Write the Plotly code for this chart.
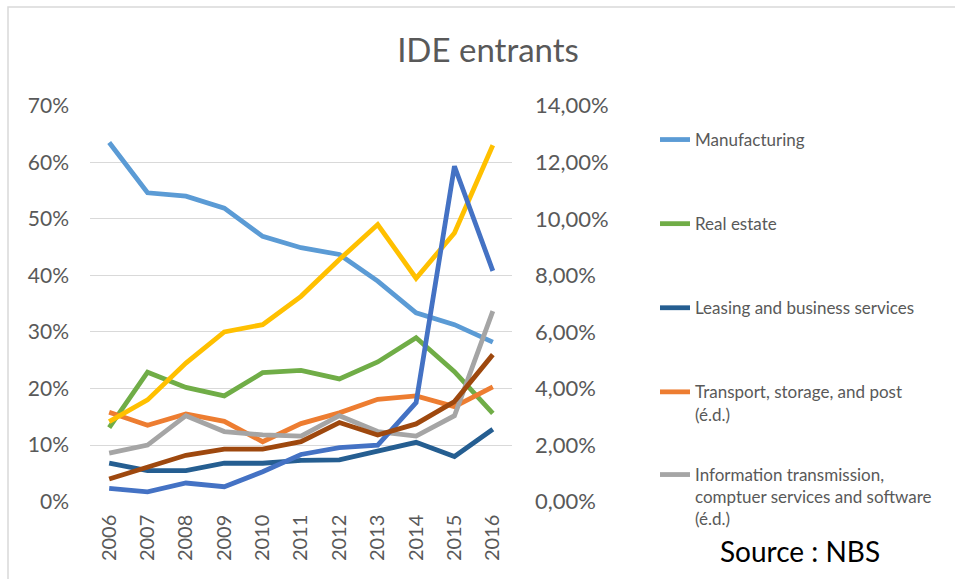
import plotly.graph_objects as go

years = ["2006", "2007", "2008", "2009", "2010", "2011", "2012", "2013", "2014", "2015", "2016"]

# Left axis series (percent)
manufacturing = [63.5, 54.6, 54.0, 51.9, 46.9, 44.9, 43.7, 39.0, 33.4, 31.3, 28.2]
real_estate = [13.1, 22.9, 20.2, 18.7, 22.8, 23.2, 21.7, 24.7, 29.0, 23.0, 15.6]
leasing = [6.8, 5.5, 5.5, 6.8, 6.8, 7.3, 7.4, 8.9, 10.5, 8.0, 12.8]

# Right axis series (percent, é.d.)
transport = [3.16, 2.70, 3.10, 2.84, 2.12, 2.76, 3.14, 3.62, 3.74, 3.36, 4.06]
information = [1.72, 2.00, 3.04, 2.48, 2.36, 2.32, 3.04, 2.48, 2.32, 3.04, 6.74]
series_yellow = [2.83, 3.60, 4.90, 6.00, 6.26, 7.26, 8.56, 9.80, 7.90, 9.50, 12.60]
series_blue = [0.47, 0.35, 0.66, 0.53, 1.06, 1.67, 1.91, 2.00, 3.50, 11.86, 8.16]
series_brown = [0.80, 1.24, 1.64, 1.86, 1.86, 2.12, 2.80, 2.36, 2.75, 3.54, 5.20]

left_ticks = [0, 10, 20, 30, 40, 50, 60, 70]
right_ticks = [0, 2, 4, 6, 8, 10, 12, 14]

FONT = "Lato"
GREY = "#595959"
LW = 4.8

fig = go.Figure()

def add(name, vals, color, axis, show=True, legend="legend"):
    fig.add_trace(go.Scatter(
        x=years, y=[v / 100 for v in vals], name=name, mode="lines",
        line=dict(color=color, width=LW), yaxis=axis,
        showlegend=show, legendgroup=name, legend=legend,
    ))

add("Manufacturing", manufacturing, "#5B9BD5", "y")
add("Real estate", real_estate, "#70AD47", "y")
add("Leasing and business services", leasing, "#255E91", "y")
add("Transport, storage, and post<br>(é.d.)", transport, "#ED7D31", "y2")
add("Information transmission,<br>comptuer services and software<br>(é.d.)", information, "#A5A5A5", "y2",
    legend="legend2")
add("Series 6 (é.d.)", series_yellow, "#FFC000", "y2", show=False)
add("Series 7 (é.d.)", series_blue, "#4472C4", "y2", show=False)
add("Series 8 (é.d.)", series_brown, "#9E480E", "y2", show=False)

W, H = 955, 579
x0, x1 = 90 / W, 512 / W
ytop, ybot = 1 - 105.7 / H, 1 - 501.7 / H

legend_common = dict(xanchor="left", yanchor="top", valign="top", itemwidth=30,
                     font=dict(family=FONT, size=17, color=GREY), bgcolor="rgba(0,0,0,0)")

fig.update_layout(
    width=W, height=H,
    margin=dict(l=0, r=0, t=0, b=0, autoexpand=False),
    paper_bgcolor="white", plot_bgcolor="white",
    separators=",.",
    font=dict(family=FONT, color=GREY),
    title=dict(text="IDE entrants", x=488 / W, xanchor="center", y=1 - 50 / H, yanchor="middle",
               font=dict(family=FONT, size=33, color=GREY)),
    xaxis=dict(domain=[x0, x1], type="category", range=[-0.5, 10.5], tickangle=-90,
               showgrid=False, showline=False, zeroline=False, ticks="", automargin=False,
               tickfont=dict(size=20, color=GREY), ticklabelstandoff=8),
    yaxis=dict(domain=[ybot, ytop], range=[0, 0.7], tickvals=[v / 100 for v in left_ticks],
               tickformat=".0%", showgrid=True, gridcolor="#D9D9D9", gridwidth=1.3,
               zeroline=False, showline=False, ticks="", automargin=False,
               tickfont=dict(size=21, color=GREY), ticklabelstandoff=20),
    yaxis2=dict(range=[0, 0.14], tickvals=[v / 100 for v in right_ticks], tickformat=".2%",
                overlaying="y", side="right", showgrid=False, zeroline=False, showline=False,
                ticks="", automargin=False, tickfont=dict(size=22, color=GREY), ticklabelstandoff=22),
    legend=dict(x=655 / W, y=1 - 122 / H, tracegroupgap=59, **legend_common),
    legend2=dict(x=655 / W, y=1 - 457 / H, **legend_common),
    showlegend=True,
    shapes=[dict(type="rect", xref="paper", yref="paper", x0=8 / W, x1=1.3, y0=-0.3, y1=1 - 7 / H,
                 line=dict(color="#D9D9D9", width=1.5), layer="below")],
    annotations=[dict(text="Source : NBS", xref="paper", yref="paper", x=800 / W, y=1 - 551 / H,
                      xanchor="center", yanchor="middle", showarrow=False,
                      font=dict(family=FONT, size=28, color="black"))],
)

fig.write_html("out.html", post_script="document.body.style.margin='0';",
               config={"displayModeBar": False})
